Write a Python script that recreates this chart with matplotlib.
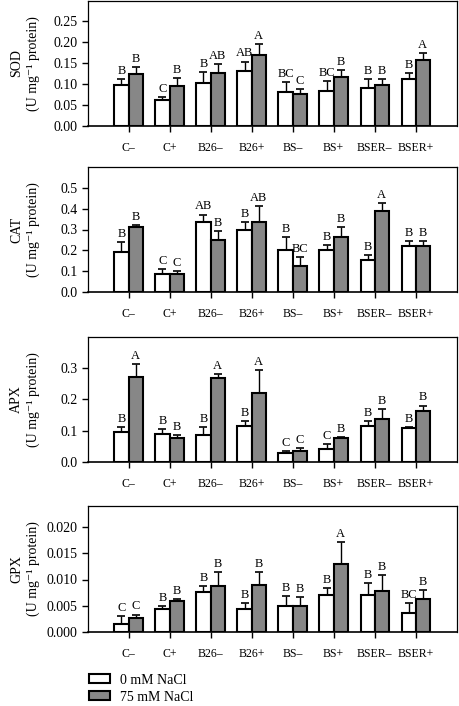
"""Antioxidant enzyme activities (SOD, CAT, APX, GPX) under 0 and 75 mM NaCl."""

import matplotlib

matplotlib.use("Agg")
import matplotlib.pyplot as plt
import numpy as np

groups = ["C–", "C+", "B26–", "B26+", "BS–", "BS+", "BSER–", "BSER+"]

# SOD
sod_0 = [0.099, 0.062, 0.1035, 0.131, 0.0815, 0.0845, 0.091, 0.112]
sod_0_top = [0.1115, 0.070, 0.129, 0.154, 0.105, 0.107, 0.112, 0.126]
sod_75 = [0.125, 0.0965, 0.127, 0.169, 0.076, 0.118, 0.098, 0.158]
sod_75_top = [0.141, 0.1155, 0.148, 0.196, 0.089, 0.133, 0.112, 0.174]
sod_0_let = ["B", "C", "B", "AB", "BC", "BC", "B", "B"]
sod_75_let = ["B", "B", "AB", "A", "C", "B", "B", "A"]

# CAT
cat_0 = [0.193, 0.085, 0.334, 0.300, 0.204, 0.201, 0.152, 0.222]
cat_0_top = [0.238, 0.109, 0.372, 0.334, 0.262, 0.227, 0.176, 0.244]
cat_75 = [0.310, 0.085, 0.252, 0.334, 0.126, 0.265, 0.387, 0.219]
cat_75_top = [0.321, 0.099, 0.291, 0.414, 0.168, 0.313, 0.428, 0.246]
cat_0_let = ["B", "C", "AB", "B", "B", "B", "B", "B"]
cat_75_let = ["B", "C", "B", "AB", "BC", "B", "A", "B"]

# APX
apx_0 = [0.097, 0.090, 0.087, 0.115, 0.030, 0.043, 0.115, 0.109]
apx_0_top = [0.112, 0.106, 0.112, 0.131, 0.035, 0.058, 0.131, 0.112]
apx_75 = [0.270, 0.077, 0.267, 0.221, 0.036, 0.076, 0.137, 0.161]
apx_75_top = [0.312, 0.086, 0.280, 0.292, 0.044, 0.080, 0.168, 0.180]
apx_0_let = ["B", "B", "B", "B", "C", "C", "B", "B"]
apx_75_let = ["A", "B", "A", "A", "C", "B", "B", "B"]

# GPX
gpx_0 = [0.00147, 0.00435, 0.0076, 0.00447, 0.00498, 0.00703, 0.0071, 0.00358]
gpx_0_top = [0.00307, 0.00492, 0.0087, 0.0055, 0.00677, 0.00837, 0.00933, 0.0055]
gpx_75 = [0.00275, 0.00588, 0.0087, 0.00888, 0.00486, 0.0129, 0.00773, 0.00626]
gpx_75_top = [0.00332, 0.0062, 0.01137, 0.01144, 0.00665, 0.0171, 0.0108, 0.00792]
gpx_0_let = ["C", "B", "B", "B", "B", "B", "B", "BC"]
gpx_75_let = ["C", "B", "B", "B", "B", "A", "B", "B"]

plt.rcParams["font.family"] = ["Liberation Serif", "DejaVu Serif"]

GREY = "#878787"
BAR_W = 0.345


def draw_panel(ax, name, ylim, yticks, fmt, v0, t0, v75, t75, l0, l75):
    x = np.arange(len(groups))
    for off, vals, tops, lets, color, lab in [
        (-BAR_W / 2, v0, t0, l0, "white", "0 mM NaCl"),
        (BAR_W / 2, v75, t75, l75, GREY, "75 mM NaCl"),
    ]:
        vals = np.array(vals)
        err = np.array(tops) - vals
        ax.bar(x + off, vals, BAR_W, color=color, edgecolor="black",
               linewidth=1.5, label=lab, zorder=2)
        ax.errorbar(x + off, vals, yerr=[np.zeros_like(err), err], fmt="none",
                    ecolor="black", elinewidth=1.0, capsize=3, capthick=1.2,
                    zorder=3)
        for xi, top, let in zip(x + off, tops, lets):
            ax.annotate(let, (xi, top), xytext=(0, 1.5), textcoords="offset points",
                        ha="center", va="bottom", fontsize=9)

    ax.set_xlim(-1, 8)
    ax.set_ylim(0, ylim)
    ax.set_yticks(yticks)
    ax.set_yticklabels([fmt.format(t) for t in yticks], fontsize=10)
    ax.set_xticks(x)
    ax.set_xticklabels(groups, fontsize=8.5)
    ax.tick_params(axis="y", direction="out", length=4, width=1, pad=3)
    ax.tick_params(axis="x", direction="out", length=4.5, width=1, pad=7)
    for side in ["top", "left", "right"]:
        ax.spines[side].set_linewidth(0.9)
    ax.spines["bottom"].set_linewidth(1.2)
    ax.set_ylabel(name + "\n(U mg⁻¹ protein)", fontsize=10, linespacing=1.35)
    ax.yaxis.set_label_coords(-0.128, 0.5)


fig = plt.figure(figsize=(4.6, 7.06), dpi=100)
W, H = 460.0, 706.0
left = 87.5 / W
width = (456.7 - 87.5) / W
panels = [(0.5, 126), (167, 292), (336.5, 462), (506, 632)]
axes = [fig.add_axes([left, 1 - b / H, width, (b - t) / H]) for t, b in panels]

draw_panel(axes[0], "SOD", 0.30, np.arange(0, 0.26, 0.05), "{:.2f}",
           sod_0, sod_0_top, sod_75, sod_75_top, sod_0_let, sod_75_let)
draw_panel(axes[1], "CAT", 0.60, np.arange(0, 0.51, 0.1), "{:.1f}",
           cat_0, cat_0_top, cat_75, cat_75_top, cat_0_let, cat_75_let)
draw_panel(axes[2], "APX", 0.40, np.arange(0, 0.31, 0.1), "{:.1f}",
           apx_0, apx_0_top, apx_75, apx_75_top, apx_0_let, apx_75_let)
draw_panel(axes[3], "GPX", 0.024, np.arange(0, 0.0201, 0.005), "{:.3f}",
           gpx_0, gpx_0_top, gpx_75, gpx_75_top, gpx_0_let, gpx_75_let)

handles, labels = axes[3].get_legend_handles_labels()
fig.legend(handles, labels, loc="upper left", bbox_to_anchor=(89 / W, 1 - 673.5 / H),
           frameon=False, fontsize=10, borderpad=0, borderaxespad=0,
           handlelength=1.5, handleheight=0.6, handletextpad=0.7, labelspacing=0.3)

fig.savefig("out.png", dpi=100)
